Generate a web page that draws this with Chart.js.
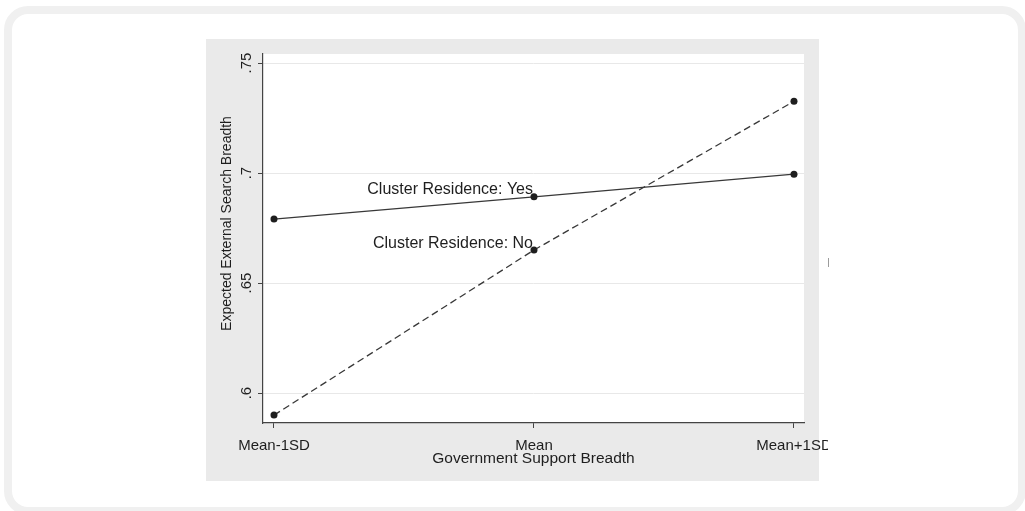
<!DOCTYPE html>
<html>
<head>
<meta charset="utf-8">
<script src="https://cdn.jsdelivr.net/npm/chart.js@4.4.1/dist/chart.umd.min.js"></script>
<style>
  html, body { margin: 0; padding: 0; background: #ffffff; width: 1025px; height: 511px; overflow: hidden; position: relative; }
  .frame { position: absolute; left: 4px; top: 6px; width: 1006px; height: 493px; border: 8px solid #f0f0f0; border-radius: 24px; }
  #panel { position: absolute; left: 206px; top: 39px; width: 613px; height: 442px; background: #eaeaea; }
  #plot { position: absolute; left: 206px; top: 39px; width: 622px; height: 442px; }
  #plot canvas { display: block; }
  .tick-stub { position: absolute; left: 828px; top: 258px; width: 1px; height: 9px; background: #9c9c9c; }
</style>
</head>
<body>
<div class="frame"></div>
<div id="panel"></div>
<div id="plot"><canvas id="chart" width="622" height="442"></canvas></div>
<div class="tick-stub"></div>
<script>
// Predicted external search breadth at three levels of government support breadth
const categories = ['Mean-1SD', 'Mean', 'Mean+1SD'];
const clusterYes = [0.6791, 0.6892, 0.6995];
const clusterNo = [0.5900, 0.6650, 0.7326];
const seriesNames = ['Cluster Residence: Yes', 'Cluster Residence: No'];
const yTicks = [0.6, 0.65, 0.7, 0.75];
const yTickLabels = ['.6', '.65', '.7', '.75'];
const xTitle = 'Government Support Breadth';
const yTitle = 'Expected External Search Breadth';

const FONT = "'Liberation Sans', Arial, Helvetica, sans-serif";
const INK = '#1e1e1e';
const LINE = '#383838';

// white plot region
const plotBackground = {
  id: 'plotBackground',
  beforeDraw(chart) {
    const { ctx, chartArea: a } = chart;
    ctx.save();
    ctx.fillStyle = '#ffffff';
    ctx.fillRect(a.left, a.top, a.right - a.left, a.bottom - a.top);
    ctx.restore();
  }
};

// series names written just left of the middle point of each line
const seriesText = {
  id: 'seriesText',
  beforeDatasetsDraw(chart) {
    const { ctx } = chart;
    ctx.save();
    ctx.font = '16px ' + FONT;
    ctx.fillStyle = INK;
    ctx.textAlign = 'right';
    ctx.textBaseline = 'alphabetic';
    chart.data.datasets.forEach((ds, i) => {
      const pt = chart.getDatasetMeta(i).data[1];
      ctx.fillText(seriesNames[i], pt.x - 1, pt.y - 2.5);
    });
    ctx.restore();
  }
};

// vertical axis title
const yAxisTitle = {
  id: 'yAxisTitle',
  afterDraw(chart) {
    const { ctx } = chart;
    const ys = chart.scales.y;
    ctx.save();
    ctx.font = '14px ' + FONT;
    ctx.fillStyle = INK;
    ctx.textAlign = 'center';
    ctx.textBaseline = 'middle';
    ctx.translate(ys.left + 21, (ys.top + ys.bottom) / 2 - 15);
    ctx.rotate(-Math.PI / 2);
    ctx.fillText(yTitle, 0, 0);
    ctx.restore();
  }
};

const toPoints = vals => vals.map((v, i) => ({ x: i, y: v }));

new Chart(document.getElementById('chart'), {
  type: 'line',
  data: {
    datasets: [
      {
        label: seriesNames[0],
        data: toPoints(clusterYes),
        borderColor: LINE,
        borderWidth: 1.3,
        pointRadius: 3.5,
        pointBackgroundColor: INK,
        pointBorderColor: INK,
        pointBorderWidth: 0,
        tension: 0,
        fill: false
      },
      {
        label: seriesNames[1],
        data: toPoints(clusterNo),
        borderColor: LINE,
        borderWidth: 1.3,
        borderDash: [7, 4],
        pointRadius: 3.5,
        pointBackgroundColor: INK,
        pointBorderColor: INK,
        pointBorderWidth: 0,
        tension: 0,
        fill: false
      }
    ]
  },
  options: {
    responsive: false,
    animation: false,
    devicePixelRatio: 1,
    layout: { padding: { left: 0, top: 15, right: 24, bottom: 0 } },
    plugins: { legend: { display: false }, tooltip: { enabled: false } },
    scales: {
      x: {
        type: 'linear',
        min: -0.0423,
        max: 2.0385,
        afterBuildTicks: s => { s.ticks = categories.map((c, i) => ({ value: i })); },
        afterFit: s => { s.height = 58; s.paddingLeft = 0; s.paddingRight = 0; },
        ticks: {
          autoSkip: false,
          minRotation: 0,
          maxRotation: 0,
          padding: 8.5,
          color: INK,
          font: { family: FONT, size: 15 },
          callback: (v, i) => categories[i]
        },
        grid: { drawOnChartArea: false, tickLength: 5, tickColor: '#444444', tickWidth: 1 },
        border: { color: '#444444', width: 1.2 },
        title: {
          display: true,
          text: xTitle,
          color: INK,
          font: { family: FONT, size: 15.5 },
          padding: { top: 0, bottom: 12.7 }
        }
      },
      y: {
        type: 'linear',
        min: 0.5864,
        max: 0.7541,
        afterBuildTicks: s => { s.ticks = yTicks.map(v => ({ value: v })); },
        afterFit: s => { s.width = 57; s.paddingTop = 0; s.paddingBottom = 0; },
        ticks: {
          minRotation: 90,
          maxRotation: 90,
          crossAlign: 'center',
          padding: 1,
          color: INK,
          font: { family: FONT, size: 15 },
          callback: (v, i) => yTickLabels[i]
        },
        grid: { color: '#e8e8e8', lineWidth: 1, tickLength: 5, tickColor: '#444444', tickWidth: 1 },
        border: { color: '#444444', width: 1.2 }
      }
    }
  },
  plugins: [plotBackground, seriesText, yAxisTitle]
});
</script>
</body>
</html>
